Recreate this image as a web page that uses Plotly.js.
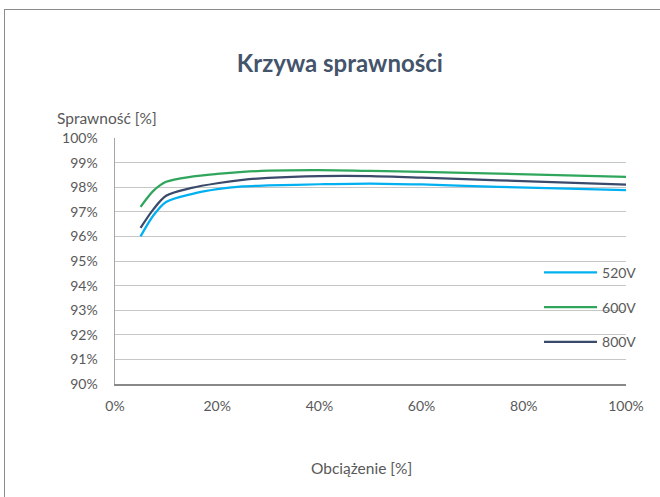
<!DOCTYPE html>
<html>
<head>
<meta charset="utf-8">
<script src="https://cdn.plot.ly/plotly-3.0.1.min.js"></script>
<style>
  html, body { margin: 0; padding: 0; overflow: hidden; background: #fff; }
  #chart { position: absolute; left: 0; top: 0; width: 660px; height: 497px; }
  #frame { position: absolute; left: 4px; top: 9px; width: 700px; height: 560px; border: 1px solid #8c8c8c; pointer-events: none; }
</style>
</head>
<body>
<div id="chart"></div>
<div id="frame"></div>
<script>
const load = [5, 7.5, 10, 15, 20, 25, 30, 40, 50, 60, 75, 100];
const eff520 = [96.0, 96.85, 97.4, 97.72, 97.92, 98.03, 98.07, 98.12, 98.15, 98.11, 98.01, 97.88];
const eff600 = [97.2, 97.85, 98.22, 98.43, 98.54, 98.62, 98.67, 98.69, 98.66, 98.62, 98.55, 98.42];
const eff800 = [96.35, 97.1, 97.65, 97.97, 98.16, 98.3, 98.38, 98.45, 98.45, 98.39, 98.28, 98.1];
const seriesNames = ['520V', '600V', '800V'];
const seriesColors = ['#00B0F0', '#2FA65C', '#3B4A6B'];
const xTicks = [0, 20, 40, 60, 80, 100];
const yTicks = [90, 91, 92, 93, 94, 95, 96, 97, 98, 99, 100];

const font = 'Lato, "Open Sans", sans-serif';
const gray = '#595959';
const seriesData = [eff520, eff600, eff800];
const traces = seriesData.map((y, i) => ({
  x: load, y: y, type: 'scatter', mode: 'lines', name: seriesNames[i],
  legendgroup: 'g' + i,
  line: { color: seriesColors[i], width: 2.25, shape: 'spline', smoothing: 0.8 }
}));

const layout = {
  width: 660, height: 497,
  margin: { l: 115, r: 0, t: 138, b: 113 },
  paper_bgcolor: '#fff', plot_bgcolor: '#fff',
  title: { text: '<b>Krzywa sprawności</b>', font: { family: font, size: 24, color: '#44546A' }, x: 0.515, xanchor: 'center', y: 0.873, yanchor: 'middle' },
  font: { family: font, size: 14, color: gray },
  xaxis: {
    domain: [0, 511 / 545],
    range: [0, 100], tickvals: xTicks, ticktext: xTicks.map(v => v + '%'),
    showgrid: false, zeroline: false, showline: true, linecolor: '#898989', linewidth: 2,
    ticks: 'outside', ticklen: 8, tickcolor: 'rgba(0,0,0,0)',
    tickfont: { family: font, size: 14, color: gray }, fixedrange: true
  },
  yaxis: {
    range: [90, 100], tickvals: yTicks, ticktext: yTicks.map(v => v + '%'),
    showgrid: true, gridcolor: '#c6c6c6', gridwidth: 1, zeroline: false,
    showline: true, linecolor: '#a6a6a6', linewidth: 1.5,
    ticks: 'outside', ticklen: 13, tickcolor: 'rgba(0,0,0,0)',
    tickfont: { family: font, size: 14, color: gray }, fixedrange: true
  },
  showlegend: true,
  legend: {
    x: 0.778, xanchor: 'left', y: 0.517, yanchor: 'top',
    bgcolor: 'rgba(0,0,0,0)', traceorder: 'grouped', tracegroupgap: 13.5,
    itemwidth: 53,
    font: { family: font, size: 14, color: gray }
  },
  annotations: [{
    text: 'Sprawność [%]', xref: 'paper', yref: 'paper', x: -0.110, y: 1.081,
    xanchor: 'left', yanchor: 'middle', showarrow: false,
    font: { family: font, size: 15.5, color: gray }
  }, {
    text: 'Obciążenie [%]', xref: 'paper', yref: 'paper', x: 0.452, y: -0.341,
    xanchor: 'center', yanchor: 'middle', showarrow: false,
    font: { family: font, size: 15.5, color: gray }
  }]
};

Plotly.newPlot('chart', traces, layout, { displayModeBar: false, staticPlot: true });
</script>
</body>
</html>
